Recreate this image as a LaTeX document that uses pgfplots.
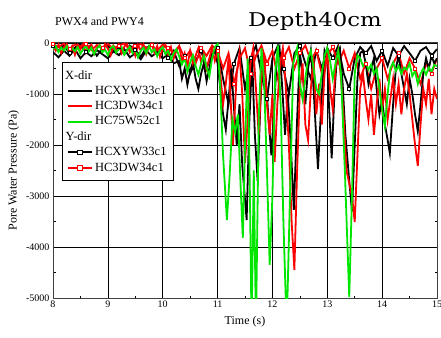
\documentclass[border=0pt]{standalone}
\usepackage{fontspec}
\setmainfont{Liberation Serif}
\newfontfamily\titlefont[FakeStretch=1.2]{DejaVu Serif}
\usepackage{pgfplots}
\pgfplotsset{compat=1.18}
\definecolor{gr}{RGB}{0,230,0}
\definecolor{rd}{RGB}{255,0,0}
\begin{document}
\begin{tikzpicture}
\begin{axis}[
  name=ax,
  scale only axis, width=384pt, height=255pt,
  xmin=8, xmax=15, ymin=-5000, ymax=0,
  xtick={8,...,15}, ytick={-5000,-4000,...,0},
  minor x tick num=1, minor y tick num=1,
  tick align=inside, major tick length=4pt, minor tick length=2.5pt,
  grid=major, major grid style={black, line width=0.7pt},
  axis line style={black!75, line width=1pt},
  every tick/.style={black, line width=0.7pt},
  /pgf/number format/assume math mode=true,
  /pgf/number format/1000 sep={},
  tick label style={font=\fontsize{10}{12}\selectfont},
  xticklabel style={yshift=1pt},
  label style={font=\fontsize{12}{14}\selectfont},
  xlabel={Time (s)}, ylabel={Pore Water Pressure (Pa)},
  xlabel style={yshift=-2pt},
  legend style={at={(0.023,0.925)}, anchor=north west, draw=black, line width=0.6pt,
    font=\fontsize{12.5}{14}\selectfont, row sep=1.5pt, inner xsep=5pt, inner ysep=6pt, fill=white},
  legend cell align=left,
  legend image code/.code={\draw[mark repeat=2, mark phase=2, line width=2pt, #1] plot coordinates {(0cm,0cm) (0.42cm,0cm) (0.84cm,0cm)};},
  clip=true,
]
% Y-dir black (squares)
\addplot[black, line width=1.8pt, mark=square*, mark repeat=3, mark size=1.5pt, mark options={fill=white, solid, line width=0.6pt}, forget plot] coordinates {
(8.0,-60)(8.1,-150)(8.2,-40)(8.3,-200)(8.4,-90)(8.5,-30)(8.6,-180)(8.7,-70)(8.8,-250)(8.9,-100)
(9.0,-40)(9.1,-160)(9.2,-80)(9.3,-220)(9.4,-50)(9.5,-130)(9.6,-270)(9.7,-90)(9.8,-40)(9.9,-190)
(10.0,-110)(10.1,-300)(10.2,-150)(10.3,-450)(10.4,-250)(10.5,-600)(10.6,-350)(10.7,-150)(10.8,-500)(10.9,-200)
(11.0,-100)(11.1,-700)(11.2,-1200)(11.3,-400)(11.4,-100)(11.5,-900)(11.6,-300)(11.7,-50)(11.8,-600)(11.9,-1100)
(12.0,-300)(12.1,-50)(12.2,-500)(12.3,-1000)(12.4,-200)(12.5,-50)(12.6,-400)(12.7,-700)(12.8,-150)(12.9,-500)
(13.0,-100)(13.1,-300)(13.2,-50)(13.3,-600)(13.4,-900)(13.5,-300)(13.6,-80)(13.7,-200)(13.8,-60)(13.9,-350)
(14.0,-150)(14.1,-450)(14.2,-100)(14.3,-250)(14.4,-60)(14.5,-200)(14.6,-350)(14.7,-150)(14.8,-80)(14.9,-250)(15.0,-120)};
% Y-dir red (squares)
\addplot[rd, line width=1.8pt, mark=square*, mark repeat=3, mark size=1.5pt, mark options={fill=white, solid, line width=0.6pt}, forget plot] coordinates {
(8.0,-20)(8.1,-80)(8.2,-10)(8.3,-120)(8.4,-30)(8.5,-60)(8.6,-10)(8.7,-140)(8.8,-40)(8.9,-90)
(9.0,-20)(9.1,-110)(9.2,-50)(9.3,-10)(9.4,-130)(9.5,-60)(9.6,-20)(9.7,-100)(9.8,-40)(9.9,-150)
(10.0,-30)(10.1,-90)(10.2,-200)(10.3,-60)(10.4,-300)(10.5,-150)(10.6,-400)(10.7,-100)(10.8,-250)(10.9,-50)
(11.0,-150)(11.1,-500)(11.2,-200)(11.3,-800)(11.4,-300)(11.5,-100)(11.6,-600)(11.7,-250)(11.8,-50)(11.9,-400)
(12.0,-150)(12.1,-700)(12.2,-300)(12.3,-80)(12.4,-500)(12.5,-200)(12.6,-50)(12.7,-350)(12.8,-150)(12.9,-600)
(13.0,-250)(13.1,-80)(13.2,-400)(13.3,-150)(13.4,-500)(13.5,-200)(13.6,-700)(13.7,-400)(13.8,-900)(13.9,-500)
(14.0,-300)(14.1,-700)(14.2,-400)(14.3,-200)(14.4,-600)(14.5,-300)(14.6,-500)(14.7,-800)(14.8,-400)(14.9,-600)(15.0,-300)};
% X-dir black
\addplot[black, line width=1.8pt, forget plot] coordinates {
(8.00,-180)(8.10,-280)(8.20,-150)(8.30,-250)(8.40,-120)(8.50,-300)(8.60,-180)(8.70,-260)(8.80,-140)(8.90,-220)
(9.00,-300)(9.10,-160)(9.20,-240)(9.30,-120)(9.40,-280)(9.50,-200)(9.60,-320)(9.70,-150)(9.80,-260)(9.90,-180)
(10.00,-300)(10.10,-220)(10.20,-400)(10.30,-350)(10.35,-700)(10.40,-500)(10.45,-820)(10.50,-550)(10.55,-380)(10.60,-700)
(10.65,-900)(10.70,-600)(10.75,-400)(10.80,-750)(10.85,-500)(10.90,-250)(10.95,-150)(11.00,-400)(11.05,-900)(11.10,-1400)
(11.15,-1700)(11.20,-1100)(11.25,-500)(11.30,-1300)(11.35,-2000)(11.40,-1200)(11.45,-2400)(11.53,-3470)(11.58,-1500)(11.63,-300)
(11.68,-1800)(11.73,-2700)(11.78,-1200)(11.83,-200)(11.88,-700)(11.93,-1500)(11.98,-2200)(12.03,-1300)(12.08,-300)(12.13,-100)
(12.18,-900)(12.23,-1800)(12.28,-1000)(12.33,-1900)(12.39,-3270)(12.45,-1500)(12.50,-200)(12.55,-600)(12.60,-1200)(12.65,-500)
(12.70,-150)(12.75,-900)(12.83,-2470)(12.90,-1000)(12.95,-150)(13.00,-300)(13.03,-1200)(13.08,-2260)(13.13,-1000)(13.18,-200)
(13.23,-100)(13.28,-800)(13.33,-1800)(13.40,-2700)(13.45,-3300)(13.50,-2000)(13.55,-700)(13.60,-200)(13.65,-150)(13.70,-400)
(13.75,-800)(13.80,-500)(13.85,-300)(13.90,-900)(13.95,-1400)(14.00,-1100)(14.05,-1600)(14.10,-1900)(14.14,-2160)(14.20,-1200)
(14.25,-500)(14.30,-250)(14.35,-600)(14.40,-900)(14.45,-1200)(14.50,-700)(14.55,-1000)(14.60,-1400)(14.65,-1730)(14.70,-1200)
(14.75,-600)(14.80,-300)(14.85,-500)(14.90,-250)(14.95,-400)(15.00,-300)};
% X-dir red
\addplot[rd, line width=1.8pt, forget plot] coordinates {
(8.00,-50)(8.05,-150)(8.10,-30)(8.15,-200)(8.20,-80)(8.25,-20)(8.30,-170)(8.35,-60)(8.40,-230)(8.45,-40)
(8.50,-120)(8.55,-20)(8.60,-190)(8.65,-70)(8.70,-30)(8.75,-210)(8.80,-90)(8.85,-40)(8.90,-160)(8.95,-20)
(9.00,-110)(9.05,-240)(9.10,-50)(9.15,-130)(9.20,-30)(9.25,-200)(9.30,-70)(9.35,-20)(9.40,-180)(9.45,-90)
(9.50,-250)(9.55,-40)(9.60,-150)(9.65,-30)(9.70,-220)(9.75,-80)(9.80,-20)(9.85,-190)(9.90,-60)(9.95,-270)
(10.00,-110)(10.05,-40)(10.10,-230)(10.15,-80)(10.20,-300)(10.25,-150)(10.30,-60)(10.35,-350)(10.40,-200)(10.45,-450)
(10.50,-150)(10.55,-400)(10.60,-250)(10.65,-100)(10.70,-380)(10.75,-200)(10.80,-500)(10.85,-300)(10.90,-100)(10.95,-350)
(11.00,-150)(11.05,-600)(11.10,-1200)(11.15,-800)(11.20,-300)(11.28,-2000)(11.35,-600)(11.40,-200)(11.45,-1000)(11.50,-2350)
(11.55,-1500)(11.60,-400)(11.65,-100)(11.70,-900)(11.75,-1800)(11.80,-700)(11.85,-200)(11.90,-1200)(11.95,-1800)(12.00,-1000)
(12.04,-2330)(12.09,-1200)(12.14,-400)(12.19,-100)(12.24,-800)(12.30,-2000)(12.35,-3500)(12.40,-4450)(12.45,-2500)(12.50,-900)
(12.55,-400)(12.60,-1600)(12.65,-1900)(12.70,-900)(12.75,-300)(12.80,-1400)(12.85,-800)(12.90,-1600)(12.95,-600)(13.00,-200)
(13.05,-900)(13.10,-1300)(13.15,-500)(13.20,-150)(13.25,-700)(13.30,-1500)(13.35,-2500)(13.45,-3000)(13.50,-3510)(13.55,-2200)
(13.60,-900)(13.65,-600)(13.70,-1100)(13.75,-1500)(13.80,-1000)(13.85,-1800)(13.90,-1200)(13.95,-700)(14.00,-1300)(14.05,-900)
(14.10,-1500)(14.15,-1100)(14.20,-700)(14.25,-1200)(14.30,-800)(14.35,-1400)(14.40,-900)(14.45,-600)(14.50,-1000)(14.55,-1500)
(14.60,-2000)(14.65,-2410)(14.70,-1600)(14.75,-900)(14.80,-1200)(14.85,-700)(14.90,-1400)(14.95,-900)(15.00,-1100)};
% X-dir green
\addplot[gr, line width=1.8pt, forget plot] coordinates {
(8.00,-120)(8.05,-60)(8.10,-180)(8.15,-90)(8.20,-150)(8.25,-60)(8.30,-200)(8.35,-100)(8.40,-160)(8.45,-80)
(8.50,-210)(8.55,-120)(8.60,-60)(8.65,-170)(8.70,-90)(8.75,-220)(8.80,-110)(8.85,-50)(8.90,-180)(8.95,-130)
(9.00,-240)(9.05,-100)(9.10,-60)(9.15,-190)(9.20,-120)(9.25,-80)(9.30,-230)(9.35,-140)(9.40,-70)(9.45,-200)
(9.50,-110)(9.55,-280)(9.60,-150)(9.65,-90)(9.70,-200)(9.75,-60)(9.80,-180)(9.85,-120)(9.90,-260)(9.95,-140)
(10.00,-80)(10.05,-220)(10.10,-150)(10.15,-330)(10.20,-200)(10.25,-120)(10.30,-260)(10.35,-420)(10.40,-300)(10.45,-560)
(10.50,-380)(10.55,-240)(10.60,-450)(10.65,-620)(10.70,-400)(10.75,-250)(10.80,-480)(10.85,-650)(10.90,-300)(10.95,-80)
(11.00,-20)(11.05,-900)(11.10,-2200)(11.17,-3470)(11.22,-2600)(11.27,-1500)(11.32,-1750)(11.37,-1400)(11.42,-2800)(11.46,-3820)
(11.50,-2000)(11.55,-300)(11.59,-3000)(11.62,-5600)(11.66,-2500)(11.70,-5600)(11.75,-1500)(11.80,-100)(11.85,-800)(11.90,-2500)
(11.95,-4350)(12.00,-3000)(12.05,-600)(12.10,-50)(12.15,-1200)(12.20,-3500)(12.26,-5600)(12.32,-3000)(12.38,-400)(12.45,-100)
(12.50,-800)(12.55,-1100)(12.60,-700)(12.65,-300)(12.70,-150)(12.75,-500)(12.80,-900)(12.85,-1000)(12.90,-600)(12.95,-250)
(13.00,-100)(13.05,-350)(13.10,-700)(13.15,-400)(13.20,-150)(13.25,-600)(13.32,-2500)(13.40,-4980)(13.45,-3000)(13.50,-600)
(13.55,-240)(13.60,-300)(13.65,-450)(13.70,-380)(13.75,-520)(13.80,-420)(13.85,-600)(13.90,-500)(13.95,-900)(14.00,-1300)
(14.05,-1630)(14.10,-1000)(14.15,-500)(14.20,-380)(14.25,-550)(14.30,-450)(14.35,-600)(14.40,-480)(14.45,-520)(14.50,-400)
(14.55,-650)(14.60,-550)(14.65,-800)(14.70,-600)(14.75,-500)(14.80,-620)(14.85,-480)(14.90,-560)(14.95,-430)(15.00,-450)};
% legend
\addlegendimage{empty legend}\addlegendentry{\hspace{-30pt}X-dir}
\addlegendimage{black}\addlegendentry{HCXYW33c1}
\addlegendimage{rd}\addlegendentry{HC3DW34c1}
\addlegendimage{gr}\addlegendentry{HC75W52c1}
\addlegendimage{empty legend}\addlegendentry{\hspace{-30pt}Y-dir}
\addlegendimage{black, mark=square*, mark size=2.2pt, mark options={fill=white, solid, line width=0.8pt}}\addlegendentry{HCXYW33c1}
\addlegendimage{rd, mark=square*, mark size=2.2pt, mark options={fill=white, solid, line width=0.8pt}}\addlegendentry{HC3DW34c1}
\end{axis}
\node[anchor=base west, font=\fontsize{12}{14}\selectfont, inner sep=0pt] at ([xshift=2pt,yshift=17pt]ax.north west) {PWX4 and PWY4};
\node[anchor=base, font=\titlefont\fontsize{19}{22}\selectfont, inner sep=0pt] at ([xshift=262pt,yshift=16pt]ax.north west) {Depth40cm};
\pgfresetboundingbox
\path ([xshift=-53pt,yshift=-39pt]ax.south west) rectangle ([xshift=4pt,yshift=43pt]ax.north east);
\end{tikzpicture}
\end{document}
